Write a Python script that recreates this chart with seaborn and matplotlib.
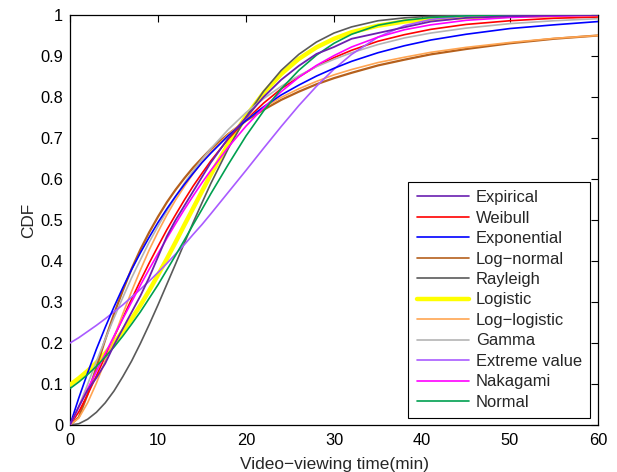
import matplotlib
matplotlib.use("Agg")
import matplotlib.pyplot as plt
import seaborn as sns
import pandas as pd

# x positions (min) at which the curves were read
x_read = [0, 1, 2, 3, 4, 5, 6, 7, 8, 9, 10, 11, 12, 13, 14, 15, 16, 18, 20, 22,
          24, 26, 28, 30, 32, 35, 38, 41, 45, 50, 55, 60]

expirical = [0.000, 0.045, 0.085, 0.115, 0.150, 0.195, 0.235, 0.275, 0.315, 0.360,
             0.410, 0.460, 0.500, 0.535, 0.570, 0.605, 0.640, 0.700, 0.750, 0.800,
             0.842, 0.876, 0.905, 0.922, 0.942, 0.956, 0.970, 0.984, 0.993, 0.997,
             0.999, 1.000]
weibull = [0.000, 0.032, 0.074, 0.120, 0.167, 0.214, 0.261, 0.307, 0.352, 0.395,
           0.436, 0.476, 0.513, 0.549, 0.583, 0.614, 0.644, 0.698, 0.744, 0.785,
           0.820, 0.849, 0.875, 0.896, 0.914, 0.936, 0.952, 0.965, 0.977, 0.986,
           0.992, 0.995]
exponential = [0.000, 0.066, 0.127, 0.185, 0.238, 0.288, 0.335, 0.379, 0.420, 0.458,
               0.494, 0.527, 0.558, 0.587, 0.614, 0.640, 0.663, 0.706, 0.743, 0.776,
               0.805, 0.829, 0.851, 0.870, 0.887, 0.908, 0.925, 0.939, 0.953, 0.967,
               0.976, 0.984]
lognormal = [0.000, 0.019, 0.075, 0.141, 0.208, 0.271, 0.328, 0.381, 0.428, 0.470,
             0.508, 0.543, 0.574, 0.602, 0.628, 0.651, 0.673, 0.710, 0.742, 0.769,
             0.793, 0.813, 0.831, 0.846, 0.859, 0.877, 0.891, 0.904, 0.917, 0.931,
             0.942, 0.950]
rayleigh = [0.000, 0.003, 0.014, 0.031, 0.054, 0.083, 0.118, 0.156, 0.199, 0.245,
            0.293, 0.343, 0.393, 0.444, 0.494, 0.542, 0.589, 0.675, 0.751, 0.814,
            0.865, 0.904, 0.934, 0.956, 0.971, 0.986, 0.993, 0.997, 0.999, 1.000,
            1.000, 1.000]
logistic = [0.098, 0.114, 0.132, 0.152, 0.175, 0.200, 0.229, 0.259, 0.292, 0.328,
            0.366, 0.405, 0.446, 0.488, 0.529, 0.570, 0.611, 0.686, 0.753, 0.810,
            0.856, 0.893, 0.921, 0.942, 0.958, 0.974, 0.984, 0.990, 0.995, 0.998,
            0.999, 1.000]
loglogistic = [0.000, 0.017, 0.054, 0.102, 0.157, 0.214, 0.271, 0.326, 0.378, 0.427,
               0.471, 0.512, 0.549, 0.582, 0.613, 0.641, 0.666, 0.709, 0.745, 0.774,
               0.799, 0.820, 0.838, 0.854, 0.867, 0.884, 0.897, 0.909, 0.921, 0.933,
               0.943, 0.950]
gamma = [0.000, 0.045, 0.099, 0.155, 0.209, 0.261, 0.311, 0.359, 0.403, 0.446,
         0.485, 0.522, 0.557, 0.590, 0.620, 0.648, 0.674, 0.721, 0.762, 0.796,
         0.826, 0.852, 0.874, 0.892, 0.908, 0.928, 0.944, 0.956, 0.968, 0.979,
         0.986, 0.991]
extreme = [0.200, 0.213, 0.228, 0.243, 0.259, 0.276, 0.293, 0.312, 0.331, 0.351,
           0.372, 0.394, 0.417, 0.440, 0.465, 0.489, 0.515, 0.568, 0.621, 0.675,
           0.728, 0.779, 0.826, 0.868, 0.904, 0.946, 0.974, 0.989, 0.998, 1.000,
           1.000, 1.000]
nakagami = [0.000, 0.044, 0.088, 0.131, 0.174, 0.217, 0.259, 0.300, 0.341, 0.380,
            0.418, 0.455, 0.491, 0.526, 0.559, 0.591, 0.621, 0.678, 0.729, 0.774,
            0.813, 0.848, 0.877, 0.901, 0.922, 0.946, 0.964, 0.976, 0.987, 0.994,
            0.997, 0.999]
normal = [0.089, 0.105, 0.123, 0.143, 0.166, 0.190, 0.217, 0.246, 0.276, 0.309,
          0.342, 0.378, 0.414, 0.451, 0.489, 0.526, 0.564, 0.636, 0.705, 0.766,
          0.820, 0.865, 0.902, 0.931, 0.953, 0.975, 0.987, 0.994, 0.998, 1.000,
          1.000, 1.000]

series_names = ["Expirical", "Weibull", "Exponential", "Log\u2212normal", "Rayleigh",
                "Logistic", "Log\u2212logistic", "Gamma", "Extreme value",
                "Nakagami", "Normal"]
series_values = [expirical, weibull, exponential, lognormal, rayleigh, logistic,
                 loglogistic, gamma, extreme, nakagami, normal]
colors = ["#6A1FB0", "#FF0000", "#0000FF", "#B5601C", "#5A5A5A", "#FFFF00",
          "#FFA552", "#B4B4B4", "#A95BFF", "#FF00FF", "#00A050"]
widths = [1.3, 1.2, 1.2, 1.6, 1.2, 3.2, 1.2, 1.2, 1.2, 1.2, 1.2]

x_ticks = [0, 10, 20, 30, 40, 50, 60]
y_ticks = [0, 0.1, 0.2, 0.3, 0.4, 0.5, 0.6, 0.7, 0.8, 0.9, 1]
y_tick_labels = ["0", "0.1", "0.2", "0.3", "0.4", "0.5", "0.6", "0.7", "0.8", "0.9", "1"]

sns.set_style("white")
plt.rcParams["font.family"] = ["Liberation Sans", "DejaVu Sans"]
plt.rcParams["axes.unicode_minus"] = True

fig = plt.figure(figsize=(6.17, 4.72), dpi=100)
ax = fig.add_axes([70 / 617, 47 / 472, 528 / 617, 410 / 472])

order_z = [12, 5, 6, 4, 5, 3, 5, 5, 5, 6, 6]
for name, vals, c, w, z in zip(series_names, series_values, colors, widths, order_z):
    df = pd.DataFrame({"x": x_read, "y": vals})
    sns.lineplot(data=df, x="x", y="y", color=c, linewidth=w, label=name,
                 ax=ax, sort=False, estimator=None, zorder=z)

ax.set_xlim(0, 60)
ax.set_ylim(0, 1)
ax.set_xticks(x_ticks)
ax.set_xticklabels([str(t) for t in x_ticks])
ax.set_yticks(y_ticks)
ax.set_yticklabels(y_tick_labels)
ax.tick_params(direction="in", length=5, width=0.8, top=True, right=True,
               labelsize=11.8, colors="black")
ax.tick_params(axis="x", pad=6)
ax.tick_params(axis="y", pad=5)
for s in ax.spines.values():
    s.set_color("black")
    s.set_linewidth(0.9)
    s.set_visible(True)
ax.set_xlabel("Video\u2212viewing time(min)", fontsize=12.4, labelpad=6)
ax.set_ylabel("CDF", fontsize=12.4, labelpad=3)

leg = ax.legend(loc="lower right", bbox_to_anchor=(0.985, 0.017), fontsize=11.9,
                frameon=True, fancybox=False, edgecolor="black", framealpha=1,
                handlelength=3.15, handletextpad=0.42, labelspacing=0.33,
                borderpad=0.5, borderaxespad=0.0)
leg.get_frame().set_linewidth(0.8)
for h in leg.get_lines():
    h.set_linewidth(1.2)
leg.get_lines()[5].set_linewidth(3.2)

fig.savefig("out.png", dpi=100)
